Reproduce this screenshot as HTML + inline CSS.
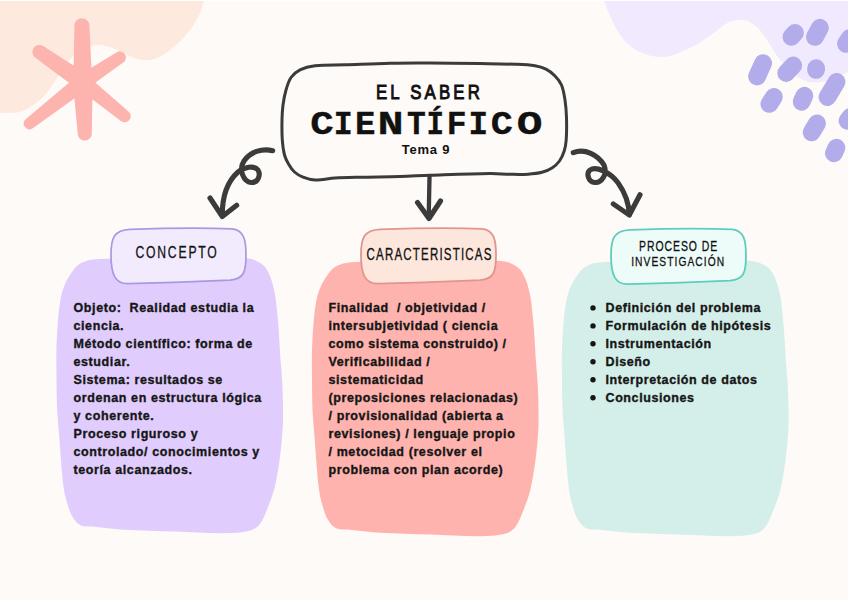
<!DOCTYPE html>
<html><head><meta charset="utf-8">
<style>
html,body{margin:0;padding:0;background:#fefaf7;}
body{width:848px;height:600px;overflow:hidden;position:relative;}
svg{position:absolute;left:0;top:0;}
.t{white-space:pre;font-family:"Liberation Sans",sans-serif;font-weight:bold;font-size:12.5px;letter-spacing:0.6px;fill:#161616;stroke:#161616;stroke-width:0.35px;}
.h{font-family:"Liberation Sans",sans-serif;fill:#111;}
</style></head><body>
<svg width="848" height="600" viewBox="0 0 848 600">
<defs><path id="card" d="M355.00,261.90 C378.30,261.27 401.67,261.48 425.00,261.30 C449.33,261.11 473.74,260.21 498.00,260.80 C502.41,260.91 506.99,261.76 511.00,263.40 C514.49,264.83 518.05,267.17 520.50,270.00 C523.12,273.03 524.66,277.19 526.20,281.00 C527.63,284.52 528.52,288.29 529.40,292.00 C530.18,295.29 530.79,298.64 531.20,302.00 C532.33,311.31 533.26,320.65 534.00,330.00 C534.79,339.98 535.12,350.01 535.80,360.00 C536.37,368.34 537.30,376.66 537.75,385.00 C538.20,393.32 538.40,401.67 538.50,410.00 C538.58,416.67 538.70,423.35 538.30,430.00 C537.70,440.02 536.83,450.05 535.50,460.00 C534.16,470.05 532.66,480.16 530.30,490.00 C528.66,496.83 526.15,503.49 523.50,510.00 C521.05,515.99 518.84,522.57 515.00,527.50 C512.67,530.49 508.73,532.82 505.00,533.75 C497.06,535.72 488.36,536.12 480.00,536.20 C463.36,536.37 446.67,535.08 430.00,534.50 C413.33,533.92 396.64,533.66 380.00,532.70 C370.64,532.16 361.33,530.94 352.00,530.00 C346.73,529.47 340.73,530.34 336.20,528.30 C332.57,526.67 329.53,522.63 327.50,519.00 C324.63,513.86 323.19,507.75 321.50,502.00 C320.35,498.09 319.57,494.04 319.00,490.00 C318.07,483.37 317.57,476.68 317.00,470.00 C316.15,460.01 315.50,450.00 314.75,440.00 C314.00,430.00 312.96,420.01 312.50,410.00 C312.04,400.01 312.08,390.00 312.00,380.00 C311.92,370.00 311.71,359.99 312.00,350.00 C312.29,339.99 312.87,329.97 313.75,320.00 C314.34,313.31 315.16,306.59 316.40,300.00 C317.07,296.42 318.15,292.87 319.50,289.50 C320.95,285.87 322.69,282.28 324.80,279.00 C327.19,275.28 329.70,271.31 333.00,268.50 C335.77,266.14 339.48,264.56 343.00,263.50 C346.81,262.36 350.97,262.01 355.00,261.90 Z"/><path id="tag" d="M130,229.3 C170,228 210,228 232,228.8 C244,230 246,240 246,255 C246,272 244,279 230,280.2 C200,281.5 160,282.8 128,283.7 C115,284 111,274 111,255 C111,238 114,230 130,229.3 Z"/></defs>
<rect width="848" height="600" fill="#fefaf7"/>
<!-- top-left peach blob -->
<path id="peach" fill="#fde9dd" d="M0,0 L204,0 C200,20 185,40 166,53 C158,59 150,61 142,60 C130,58 120,49 104,45.5 C90,43 76,51 66,64 C54,80 46,104 18,112.5 L0,113 Z"/>
<!-- asterisk -->
<path fill="#fdb3ae" d="M92.3,84.8 L89.4,25.6 A7.50,7.50 0 0 0 74.4,25.8 L73.3,85.1 Z M72.7,79.5 L77.8,133.9 A7.00,7.00 0 0 0 91.8,133.3 L92.7,78.7 Z M90.2,76.3 L42.8,45.8 A7.00,7.00 0 0 0 34.8,57.2 L79.9,91.0 Z M85.2,90.1 L123.5,62.2 A6.00,6.00 0 0 0 116.9,52.2 L76.4,76.8 Z M79.6,73.8 L25.4,119.5 A5.75,5.75 0 0 0 32.4,128.5 L90.0,87.2 Z M75.9,86.8 L120.9,120.9 A6.00,6.00 0 0 0 128.5,111.5 L86.0,74.4 Z"/>
<circle cx="82.8" cy="82.1" r="10" fill="#fdb3ae"/>
<!-- cards -->
<use href="#card" fill="#ffb3ae"/>
<use href="#card" transform="translate(-255.5,-3)" fill="#e0cdfd"/>
<use href="#card" transform="translate(250,0)" fill="#d4efe9"/>
<!-- title box -->
<path fill="none" stroke="#3b3b3b" stroke-width="3" stroke-linecap="round" d="M315.00,65.80 C324.89,64.70 335.00,65.15 345.00,64.80 C360.00,64.28 375.00,63.52 390.00,63.20 C403.33,62.92 416.67,62.94 430.00,63.00 C446.67,63.07 463.33,63.35 480.00,63.60 C491.67,63.78 503.34,63.83 515.00,64.30 C521.68,64.57 528.44,64.76 535.00,65.80 C538.77,66.40 542.63,67.48 546.00,69.20 C549.30,70.88 552.40,73.35 555.00,76.00 C557.56,78.61 560.10,81.65 561.50,85.00 C563.44,89.65 564.23,94.94 565.00,100.00 C565.90,105.94 566.32,111.99 566.50,118.00 C566.72,125.32 566.71,132.71 566.20,140.00 C565.94,143.71 565.32,147.48 564.20,151.00 C563.09,154.48 561.61,158.06 559.50,161.00 C557.54,163.73 554.83,166.17 552.00,168.00 C549.00,169.94 545.48,171.40 542.00,172.30 C537.48,173.47 532.69,173.91 528.00,174.20 C522.02,174.57 516.00,174.39 510.00,174.30 C503.33,174.19 496.67,173.52 490.00,173.60 C470.00,173.85 450.00,174.66 430.00,175.30 C420.00,175.62 410.00,176.23 400.00,176.50 C386.67,176.86 373.33,176.89 360.00,177.20 C351.66,177.39 343.32,177.48 335.00,178.00 C328.32,178.42 321.61,180.17 315.00,180.00 C310.95,179.90 306.78,178.67 303.00,177.20 C299.94,176.01 296.93,174.18 294.50,172.00 C292.20,169.94 290.38,167.19 288.80,164.50 C287.05,161.52 285.38,158.33 284.50,155.00 C283.22,150.16 282.66,145.03 282.30,140.00 C281.83,133.36 281.87,126.66 282.00,120.00 C282.10,114.99 282.34,109.96 283.00,105.00 C283.67,99.96 284.58,94.88 286.00,90.00 C287.25,85.71 288.52,81.08 291.00,77.50 C293.18,74.35 296.54,71.49 300.00,69.80 C304.54,67.59 309.89,66.37 315.00,65.80 Z"/>
<!-- arrows -->
<g fill="none" stroke="#3b3b3b" stroke-width="5.1" stroke-linecap="round" stroke-linejoin="round">
<path d="M429.5,177 L428.7,217" stroke-width="4.3"/>
<path d="M417.5,202.5 L429,218.5 L440.5,201"/>
<path d="M272.7,150.7 C262,148 250,152 244,161 C238,170 244,182 251,182.5 C258,183 261,175 258,170 C254,165 244,167 238,172 C228,181 222,195 222.3,216"/>
<path d="M210,198 L222.3,216.5 L236.7,205.3"/>
<path d="M573.3,152.7 C585,148 598,155 604,165 C608,175 601,183 595,182.5 C588,182 586,173 590,170 C596,166 610,172 618,182.7 C626,194 629,205 629.3,214.7"/>
<path d="M613.3,204 L629.3,215 L640,194.7"/>
</g>
<!-- tags -->
<use href="#tag" fill="#f2ebfe" stroke="#a999e0" stroke-width="1.7"/>
<use href="#tag" transform="translate(250,0)" fill="#fde7dc" stroke="#e2948e" stroke-width="1.8"/>
<use href="#tag" transform="translate(500,0.5)" fill="#eefcf9" stroke="#5fcdbd" stroke-width="1.8"/>
<!-- top-right lavender blob -->
<path fill="#f1eafe" d="M604,0 L848,0 L848,72 C835,80 820,84 808,82 C792,76.5 782,63 774,51.5 C766,38 760,27 748,21 C735,17 725,24 719,29 C705,40 690,50 670,56 C650,60 630,50 620,35 C612,22 607,10 604,0 Z"/>
<!-- pills -->
<g stroke="#b2adea" stroke-linecap="round" fill="none" stroke-width="17.8">
<path d="M791.4,36.9 L795.0,32.9"/>
<path d="M814.9,36.9 L819.9,27.7"/>
<path d="M846.0,43.8 L850.0,37.8"/>
<path d="M757.1,76.5 L763.1,63.1"/>
<path d="M786.2,73.0 L793.2,65.5"/>
<path d="M816.0,69.9 L816.2,68.2"/>
<path d="M827.5,97.0 L836.5,82.0"/>
<path d="M769.4,103.9 L773.8,96.9"/>
<path d="M801.6,101.8 L804.4,95.8"/>
<path d="M847.5,120.8 L850.5,116.8"/>
<path d="M811.6,132.4 L817.0,123.4"/>
<path d="M833.9,153.3 L836.4,147.7"/>

</g>
<!-- card text -->
<g class="t" xml:space="preserve">
<text x="73.5" y="312.2" style="white-space:pre">Objeto:  Realidad estudia la</text>
<text x="73.5" y="330.2" style="white-space:pre">ciencia.</text>
<text x="73.5" y="348.1" style="white-space:pre">Método científico: forma de</text>
<text x="73.5" y="366.1" style="white-space:pre">estudiar.</text>
<text x="73.5" y="384.0" style="white-space:pre">Sistema: resultados se</text>
<text x="73.5" y="402.0" style="white-space:pre">ordenan en estructura lógica</text>
<text x="73.5" y="420.0" style="white-space:pre">y coherente.</text>
<text x="73.5" y="437.9" style="white-space:pre">Proceso riguroso y</text>
<text x="73.5" y="455.9" style="white-space:pre">controlado/ conocimientos y</text>
<text x="73.5" y="473.8" style="white-space:pre">teoría alcanzados.</text>
<text x="328.5" y="312.2" style="white-space:pre">Finalidad  / objetividad /</text>
<text x="328.5" y="330.2" style="white-space:pre">intersubjetividad ( ciencia</text>
<text x="328.5" y="348.1" style="white-space:pre">como sistema construido) /</text>
<text x="328.5" y="366.1" style="white-space:pre">Verificabilidad /</text>
<text x="328.5" y="384.0" style="white-space:pre">sistematicidad</text>
<text x="328.5" y="402.0" style="white-space:pre">(preposiciones relacionadas)</text>
<text x="328.5" y="420.0" style="white-space:pre">/ provisionalidad (abierta a</text>
<text x="328.5" y="437.9" style="white-space:pre">revisiones) / lenguaje propio</text>
<text x="328.5" y="455.9" style="white-space:pre">/ metocidad (resolver el</text>
<text x="328.5" y="473.8" style="white-space:pre">problema con plan acorde)</text>
<text x="605.5" y="312.2" style="white-space:pre">Definición del problema</text>
<circle cx="593" cy="307.9" r="2.7" fill="#161616" stroke="none"/>
<text x="605.5" y="330.2" style="white-space:pre">Formulación de hipótesis</text>
<circle cx="593" cy="325.9" r="2.7" fill="#161616" stroke="none"/>
<text x="605.5" y="348.1" style="white-space:pre">Instrumentación</text>
<circle cx="593" cy="343.8" r="2.7" fill="#161616" stroke="none"/>
<text x="605.5" y="366.1" style="white-space:pre">Diseño</text>
<circle cx="593" cy="361.8" r="2.7" fill="#161616" stroke="none"/>
<text x="605.5" y="384.0" style="white-space:pre">Interpretación de datos</text>
<circle cx="593" cy="379.7" r="2.7" fill="#161616" stroke="none"/>
<text x="605.5" y="402.0" style="white-space:pre">Conclusiones</text>
<circle cx="593" cy="397.7" r="2.7" fill="#161616" stroke="none"/>
</g>
<!-- tag text -->
<g class="h" font-size="16" stroke="#111" stroke-width="0.3" text-anchor="middle">
<text transform="translate(177,258) scale(0.76,1)" letter-spacing="2.4">CONCEPTO</text>
<text transform="translate(429.6,259.8) scale(0.72,1)" font-size="16" letter-spacing="1.65">CARACTERISTICAS</text>
<text transform="translate(678.6,251.2) scale(0.72,1)" font-size="14.5" letter-spacing="1.35">PROCESO DE</text>
<text transform="translate(678.2,265.5) scale(0.76,1)" font-size="13.5" letter-spacing="1.4">INVESTIGACIÓN</text>
</g>
<!-- title text -->
<text class="h" transform="translate(429.5,99.4) scale(0.8,1)" text-anchor="middle" font-size="21" font-weight="normal" stroke="#111" stroke-width="1" letter-spacing="4">EL SABER</text>
<g class="h" text-anchor="middle" font-size="34" font-weight="bold" stroke="#111" stroke-width="0.35" style="font-family:'Liberation Mono',monospace"><text transform="translate(321.9,134.3) scale(1.15,1)">C</text><text transform="translate(343.3,134.3) scale(0.93,1)">I</text><text transform="translate(365.2,134.3) scale(1.00,1)">E</text><text transform="translate(390.6,134.3) scale(1.28,1)">N</text><text transform="translate(416.3,134.3) scale(0.92,1)">T</text><text transform="translate(435.2,134.3) scale(0.86,1)">Í</text><text transform="translate(456.7,134.3) scale(0.97,1)">F</text><text transform="translate(478.3,134.3) scale(0.96,1)">I</text><text transform="translate(501.7,134.3) scale(1.08,1)">C</text><text transform="translate(529.6,134.3) scale(1.26,1)">O</text></g>
<text class="h" x="426" y="153.8" text-anchor="middle" font-size="13" font-weight="bold" letter-spacing="0.8">Tema 9</text>
<rect x="0" y="0" width="848" height="1" fill="#ffffff"/>
</svg>
</body></html>
